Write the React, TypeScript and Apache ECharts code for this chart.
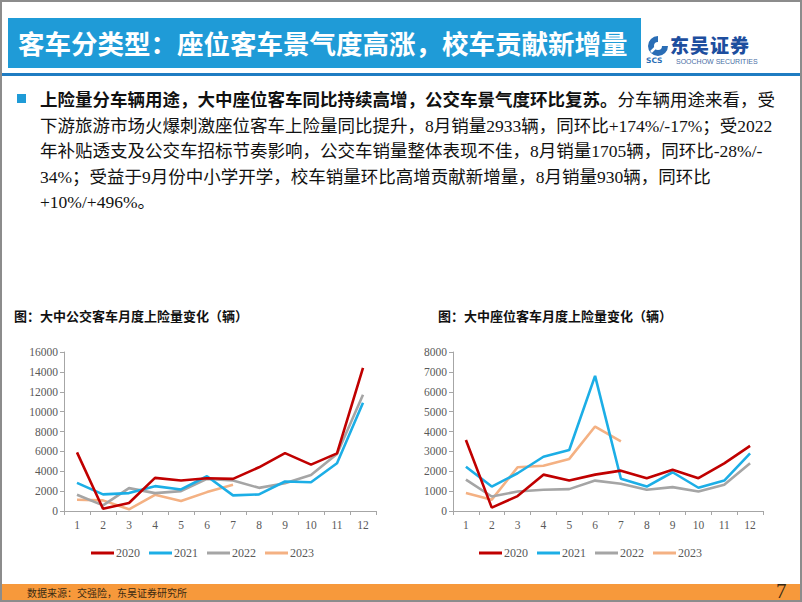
import React, { useEffect, useRef } from "react";
import * as echarts from "echarts";

const months = ["1", "2", "3", "4", "5", "6", "7", "8", "9", "10", "11", "12"];
const years = ["2020", "2021", "2022", "2023"];
const colors = ["#C00000", "#1CAEE6", "#A5A5A5", "#F4B183"];

// 大中公交客车月度上险量（辆）
const bus2020 = [5900, 230, 800, 3330, 3070, 3300, 3230, 4400, 5830, 4670, 5800, 14400];
const bus2021 = [2830, 1670, 1800, 2500, 2170, 3500, 1570, 1670, 2970, 2900, 4800, 10900];
const bus2022 = [1630, 570, 2300, 1800, 2000, 3230, 3070, 2330, 2800, 3630, 5730, 11700];
const bus2023 = [1130, 1070, 170, 1630, 1000, 1900, 2630];

// 大中座位客车月度上险量（辆）
const seat2020 = [3570, 170, 750, 1830, 1530, 1830, 2030, 1650, 2070, 1650, 2400, 3280];
const seat2021 = [2230, 1230, 1900, 2730, 3070, 6800, 1620, 1230, 1950, 1170, 1530, 2900];
const seat2022 = [1580, 730, 980, 1070, 1100, 1530, 1370, 1070, 1200, 980, 1320, 2400];
const seat2023 = [900, 570, 2200, 2280, 2620, 4250, 3500];

const busSeries = [bus2020, bus2021, bus2022, bus2023];
const seatSeries = [seat2020, seat2021, seat2022, seat2023];

const axisColor = "#A6A6A6";
const labelStyle = {
  fontFamily: '"Liberation Serif", serif',
  fontSize: 11.5,
  color: "#595959",
};

function makeXAxis(gridIndex: number) {
  return {
    type: "category",
    gridIndex,
    data: months,
    boundaryGap: true,
    axisLine: { show: true, lineStyle: { color: axisColor, width: 1 } },
    axisTick: { show: true, length: 4, alignWithLabel: false, lineStyle: { color: axisColor } },
    axisLabel: { ...labelStyle, margin: 8 },
    splitLine: { show: false },
  };
}

function makeYAxis(gridIndex: number, max: number, interval: number) {
  return {
    type: "value",
    gridIndex,
    min: 0,
    max,
    interval,
    axisLine: { show: true, lineStyle: { color: axisColor, width: 1 } },
    axisTick: { show: true, length: 4, lineStyle: { color: axisColor } },
    axisLabel: { ...labelStyle, margin: 6, formatter: (v: number) => String(v) },
    splitLine: { show: false },
  };
}

function makeLegend(left: number) {
  return {
    left,
    top: 542,
    icon: "rect",
    itemWidth: 23,
    itemHeight: 3,
    itemGap: 9,
    data: years,
    textStyle: { ...labelStyle, fontSize: 12, padding: [0, 0, 0, -3] },
  };
}

function ChartArea() {
  const ref = useRef<HTMLDivElement>(null);
  useEffect(() => {
    if (!ref.current) return;
    const chart = echarts.init(ref.current, undefined, { renderer: "svg" });
    const series: any[] = [];
    years.forEach((y, i) => {
      series.push({
        name: y,
        type: "line",
        xAxisIndex: 0,
        yAxisIndex: 0,
        data: busSeries[i],
        symbol: "none",
        lineStyle: { color: colors[i], width: 2.6 },
        itemStyle: { color: colors[i] },
        z: 10 - i,
      });
    });
    years.forEach((y, i) => {
      series.push({
        name: y,
        type: "line",
        xAxisIndex: 1,
        yAxisIndex: 1,
        data: seatSeries[i],
        symbol: "none",
        lineStyle: { color: colors[i], width: 2.6 },
        itemStyle: { color: colors[i] },
        z: 10 - i,
      });
    });
    chart.setOption({
      animation: false,
      backgroundColor: "transparent",
      title: [
        {
          text: "图：大中公交客车月度上险量变化（辆）",
          left: 9,
          top: 304,
          textStyle: { fontFamily: '"Noto Sans CJK SC", sans-serif', fontSize: 13, fontWeight: "bold", color: "#111" },
        },
        {
          text: "图：大中座位客车月度上险量变化（辆）",
          left: 433,
          top: 304,
          textStyle: { fontFamily: '"Noto Sans CJK SC", sans-serif', fontSize: 13, fontWeight: "bold", color: "#111" },
        },
      ],
      grid: [
        { left: 64, top: 352, width: 312, height: 159 },
        { left: 453, top: 352, width: 310, height: 159 },
      ],
      xAxis: [makeXAxis(0), makeXAxis(1)],
      yAxis: [makeYAxis(0, 16000, 2000), makeYAxis(1, 8000, 1000)],
      legend: [makeLegend(86), makeLegend(474)],
      series,
    });
    return () => chart.dispose();
  }, []);
  return (
    <div
      ref={ref}
      style={{ position: "absolute", left: 0, top: 0, width: 802, height: 602 }}
    />
  );
}

const cjk = '"Noto Sans CJK SC", sans-serif';
const mixed = '"Liberation Serif", "Noto Sans CJK SC", serif';

export default function App() {
  return (
    <div
      style={{
        position: "fixed",
        left: 0,
        top: 0,
        width: 802,
        height: 602,
        background: "#fff",
        overflow: "hidden",
      }}
    >
      {/* header box */}
      <div
        style={{
          position: "absolute",
          left: 8,
          top: 18,
          width: 633,
          height: 50,
          background: "#1F9BD7",
        }}
      />
      <div
        style={{
          position: "absolute",
          left: 18,
          top: 18,
          height: 50,
          lineHeight: "50px",
          color: "#fff",
          fontFamily: cjk,
          fontWeight: 700,
          fontSize: 26.5,
          whiteSpace: "nowrap",
        }}
      >
        客车分类型：座位客车景气度高涨，校车贡献新增量
      </div>
      {/* logo */}
      <svg
        style={{ position: "absolute", left: 645, top: 35 }}
        width="26"
        height="30"
        viewBox="0 0 26 30"
      >
        <path d="M13 1 A10 10 0 1 0 23 11 L17 11 A4 4 0 1 1 13 7 Z" fill="#2A6DB5" />
        <path d="M6 17 L20 3" stroke="#fff" strokeWidth="2.5" />
        <text x="1" y="28" fontFamily="DejaVu Sans, sans-serif" fontWeight="bold" fontSize="7.5" fill="#2A6DB5">SCS</text>
      </svg>
      <div
        style={{
          position: "absolute",
          left: 670,
          top: 34,
          fontFamily: cjk,
          fontWeight: 900,
          fontSize: 19,
          lineHeight: "22px",
          color: "#1D4E9E",
          whiteSpace: "nowrap",
          letterSpacing: 1,
        }}
      >
        东吴证券
      </div>
      <div
        style={{
          position: "absolute",
          left: 676,
          top: 58,
          fontFamily: '"Liberation Sans", sans-serif',
          fontSize: 7,
          lineHeight: "8px",
          color: "#4A6FA5",
          whiteSpace: "nowrap",
        }}
      >
        SOOCHOW SECURITIES
      </div>
      {/* blue rule */}
      <div
        style={{
          position: "absolute",
          left: 0,
          top: 73,
          width: 802,
          height: 3,
          background: "#1F7CC2",
        }}
      />
      {/* bullet */}
      <div
        style={{
          position: "absolute",
          left: 17,
          top: 94,
          width: 9,
          height: 9,
          background: "#1F9BD7",
        }}
      />
      {/* paragraph */}
      <div
        style={{
          position: "absolute",
          left: 40,
          top: 86,
          fontFamily: mixed,
          fontSize: 17.5,
          lineHeight: "25.5px",
          color: "#111",
          whiteSpace: "nowrap",
        }}
      >
        <span style={{ fontFamily: cjk, fontWeight: 700 }}>
          上险量分车辆用途，大中座位客车同比持续高增，公交车景气度环比复苏。
        </span>
        分车辆用途来看，受
        <br />
        下游旅游市场火爆刺激座位客车上险量同比提升，8月销量2933辆，同环比+174%/-17%；受2022
        <br />
        年补贴透支及公交车招标节奏影响，公交车销量整体表现不佳，8月销量1705辆，同环比-28%/-
        <br />
        34%；受益于9月份中小学开学，校车销量环比高增贡献新增量，8月销量930辆，同环比
        <br />
        +10%/+496%。
      </div>

      <ChartArea />

      {/* footer */}
      <div
        style={{
          position: "absolute",
          left: 0,
          top: 584,
          width: 802,
          height: 18,
          background: "#F7993B",
        }}
      />
      <div
        style={{
          position: "absolute",
          left: 27,
          top: 585,
          fontFamily: cjk,
          fontSize: 10,
          lineHeight: "16px",
          color: "#3B2A12",
          whiteSpace: "nowrap",
        }}
      >
        数据来源：交强险，东吴证券研究所
      </div>
      <div
        style={{
          position: "absolute",
          left: 776,
          top: 580,
          fontFamily: '"Liberation Serif", serif',
          fontSize: 21,
          lineHeight: "22px",
          color: "#3B2A12",
        }}
      >
        7
      </div>
      {/* frame */}
      <div
        style={{
          position: "absolute",
          left: 0,
          top: 0,
          width: 802,
          height: 602,
          boxSizing: "border-box",
          border: "2px solid #8C8C8C",
          pointerEvents: "none",
        }}
      />
    </div>
  );
}
